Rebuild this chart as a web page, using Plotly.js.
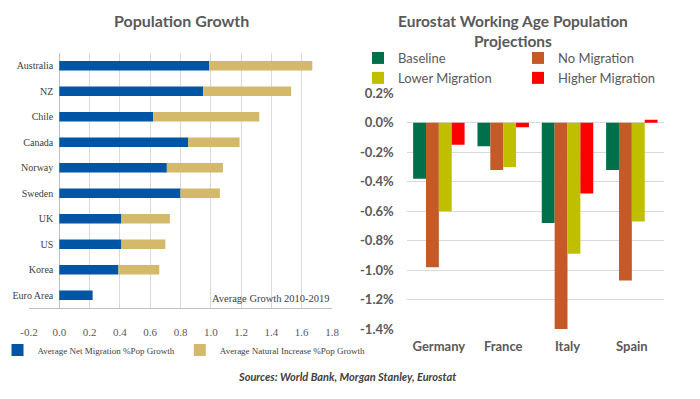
<!DOCTYPE html>
<html><head><meta charset="utf-8">
<script src="https://cdn.plot.ly/plotly-3.0.1.min.js"></script>
<style>html,body{margin:0;padding:0;background:#fff}#c{width:700px;height:399px}</style>
</head><body><div id="c"></div>
<script>
// Left chart: Population Growth (average 2010-2019, % of population)
const countries = ['Australia','NZ','Chile','Canada','Norway','Sweden','UK','US','Korea','Euro Area'];
const netMigration = [0.99, 0.95, 0.62, 0.85, 0.71, 0.80, 0.41, 0.41, 0.39, 0.22];
const naturalIncrease = [0.68, 0.58, 0.70, 0.34, 0.37, 0.26, 0.32, 0.29, 0.27, 0.00];
const leftTickVals = [-0.2,0,0.2,0.4,0.6,0.8,1.0,1.2,1.4,1.6,1.8];
const leftTickText = ['-0.2','0.0','0.2','0.4','0.6','0.8','1.0','1.2','1.4','1.6','1.8'];

// Right chart: Eurostat working age population projections (%)
const euCountries = ['Germany','France','Italy','Spain'];
const baseline = [-0.38, -0.16, -0.68, -0.32];
const noMigration = [-0.98, -0.32, -1.40, -1.07];
const lowerMigration = [-0.60, -0.30, -0.89, -0.67];
const higherMigration = [-0.15, -0.03, -0.48, 0.02];
const rightTickVals = [0.2,0,-0.2,-0.4,-0.6,-0.8,-1.0,-1.2,-1.4];
const rightTickText = ['0.2%','0.0%','-0.2%','-0.4%','-0.6%','-0.8%','-1.0%','-1.2%','-1.4%'];

const serif = 'Liberation Serif, serif';
const sans = 'Lato, Open Sans, sans-serif';
const grey = '#595959';

const traces = [
  {type:'bar', orientation:'h', y:countries, x:netMigration, name:'Average Net Migration %Pop Growth',
   marker:{color:'#0055a4'}, width:0.37, offset:-0.185, xaxis:'x', yaxis:'y', legend:'legend', hoverinfo:'x+y'},
  {type:'bar', orientation:'h', y:countries, x:naturalIncrease, base:netMigration, name:'Average Natural Increase %Pop Growth',
   marker:{color:'#d4b96a'}, width:0.37, offset:-0.185, xaxis:'x', yaxis:'y', legend:'legend', hoverinfo:'x+y'},
  {type:'bar', x:euCountries, y:baseline, name:'Baseline', marker:{color:'#00704a'}, xaxis:'x2', yaxis:'y2', legend:'legend2'},
  {type:'bar', x:euCountries, y:noMigration, name:'No Migration', marker:{color:'#c55a28'}, xaxis:'x2', yaxis:'y2', legend:'legend3'},
  {type:'bar', x:euCountries, y:lowerMigration, name:'Lower Migration', marker:{color:'#bfbf00'}, xaxis:'x2', yaxis:'y2', legend:'legend2'},
  {type:'bar', x:euCountries, y:higherMigration, name:'Higher Migration', marker:{color:'#ff0000'}, xaxis:'x2', yaxis:'y2', legend:'legend3'}
];

const layout = {
  width:700, height:399, margin:{l:0,r:0,t:0,b:0,autoexpand:false},
  paper_bgcolor:'#fff', plot_bgcolor:'rgba(0,0,0,0)',
  barmode:'group', bargap:0.2, bargroupgap:0,
  showlegend:true,
  xaxis:{domain:[29/700, 332/700], range:[-0.2,1.8], anchor:'y', tickvals:leftTickVals, ticktext:leftTickText,
    showgrid:true, gridcolor:'#d9d9d9', gridwidth:1, zeroline:true, zerolinecolor:'#bfbfbf', zerolinewidth:1,
    showline:true, linecolor:'#bfbfbf', linewidth:1, ticks:'', ticklabelstandoff:14, automargin:false,
    tickfont:{family:serif, size:11, color:grey}, fixedrange:true},
  yaxis:{domain:[(399-308)/399, (399-53)/399], range:[9.5,-0.5], anchor:'free', position:59.3/700,
    showgrid:false, zeroline:false, showline:false, ticks:'', ticklabelstandoff:6, automargin:false,
    tickfont:{family:serif, size:10, color:'#404040'}, fixedrange:true},
  xaxis2:{domain:[406.7/700, 664/700], range:[-0.5,3.5], anchor:'y2', showgrid:false, zeroline:false, showline:false,
    ticks:'', ticklabelstandoff:8, automargin:false, tickfont:{family:sans, size:13, color:grey, weight:'bold'}, fixedrange:true},
  yaxis2:{domain:[(399-329)/399, (399-93.3)/399], range:[-1.4,0.2], anchor:'x2', tickvals:rightTickVals, ticktext:rightTickText,
    showgrid:true, gridcolor:'#d9d9d9', gridwidth:1, zeroline:false, showline:false, ticks:'', ticklabelstandoff:12, automargin:false,
    tickfont:{family:sans, size:13, color:grey, weight:'bold'}, fixedrange:true},
  legend:{orientation:'h', x:184/700, xanchor:'center', y:(399-350)/399, yanchor:'middle',
    font:{family:serif, size:9, color:'#404040'}, itemwidth:30, bgcolor:'rgba(0,0,0,0)', traceorder:'normal'},
  legend2:{orientation:'v', x:358/700, xanchor:'left', y:(399-68)/399, yanchor:'middle',
    font:{family:sans, size:13, color:grey}, bgcolor:'rgba(0,0,0,0)', traceorder:'normal', tracegroupgap:0},
  legend3:{orientation:'v', x:518/700, xanchor:'left', y:(399-68)/399, yanchor:'middle',
    font:{family:sans, size:13, color:grey}, bgcolor:'rgba(0,0,0,0)', traceorder:'normal', tracegroupgap:0},
  annotations:[
    {text:'<b>Population Growth</b>', x:181/700, y:(399-20)/399, xref:'paper', yref:'paper', showarrow:false,
     xanchor:'center', yanchor:'middle', font:{family:sans, size:16, color:grey}},
    {text:'<b>Eurostat Working Age Population<br>Projections</b>', x:513/700, y:(399-31)/399, xref:'paper', yref:'paper', showarrow:false,
     xanchor:'center', yanchor:'middle', font:{family:sans, size:15.5, color:grey}},
    {text:'Average Growth 2010-2019', x:332/700, y:(399-298)/399, xref:'paper', yref:'paper', showarrow:false,
     xanchor:'right', yanchor:'middle', font:{family:serif, size:10.5, color:'#404040'}},
    {text:'<b><i>Sources: World Bank, Morgan Stanley, Eurostat</i></b>', x:347/700, y:(399-376)/399, xref:'paper', yref:'paper', showarrow:false,
     xanchor:'center', yanchor:'middle', font:{family:sans, size:11, color:'#404040'}}
  ]
};

Plotly.newPlot('c', traces, layout, {displayModeBar:false, staticPlot:true});
</script></body></html>
